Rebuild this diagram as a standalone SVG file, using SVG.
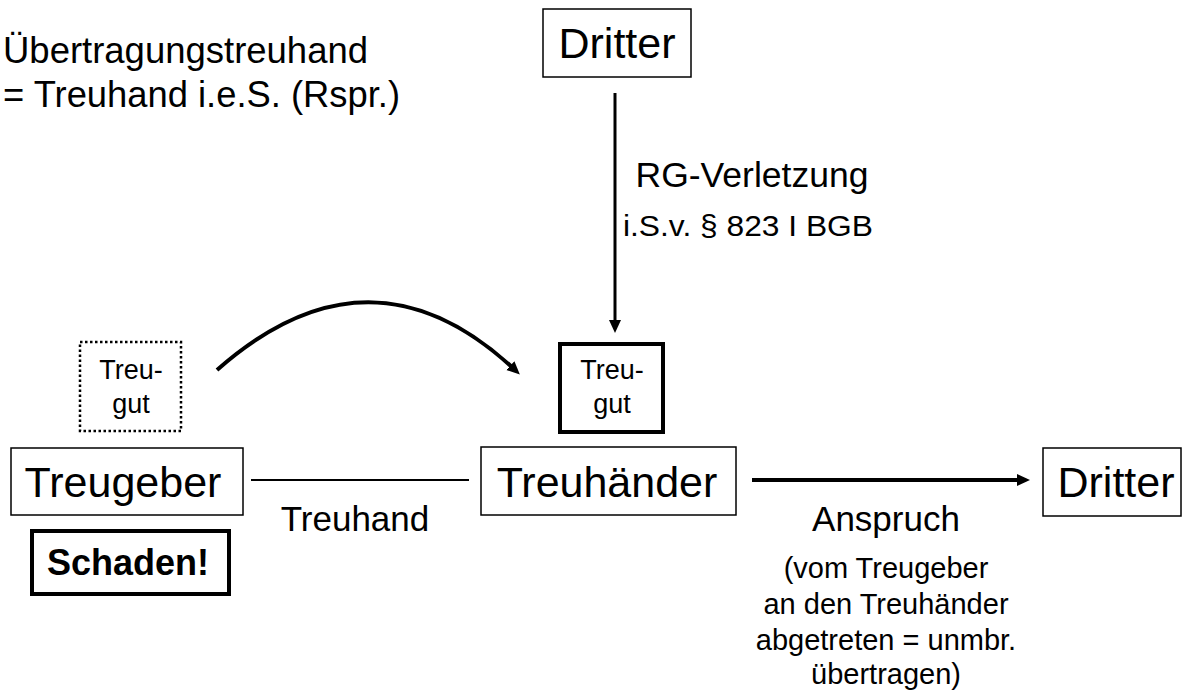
<svg xmlns="http://www.w3.org/2000/svg" width="1188" height="691" viewBox="0 0 1188 691">
<defs>
<style>
text{font-family:"Liberation Sans",Arial,sans-serif;fill:#000}
.big{font-size:43px;text-anchor:middle}
.mid{font-size:35px;text-anchor:middle}
.sm{font-size:27px;text-anchor:middle}
.box{fill:#fff;stroke:#000;stroke-width:1.5}
.thick{fill:#fff;stroke:#000;stroke-width:4}
.dot{fill:#fff;stroke:#000;stroke-width:2.5;stroke-dasharray:2.5 2.5}
.conn{fill:none;stroke:#000}
</style>
<marker id="ah" markerUnits="userSpaceOnUse" markerWidth="14" markerHeight="14" refX="5" refY="6" orient="auto" viewBox="0 0 14 12">
<path d="M0,0 L13,6 L0,12 z" fill="#000"/>
</marker>
</defs>
<g id="title">
<text x="3" y="63" font-size="36" textLength="365" lengthAdjust="spacingAndGlyphs">Übertragungstreuhand</text>
<text x="3" y="107" font-size="36" textLength="397" lengthAdjust="spacingAndGlyphs">= Treuhand i.e.S. (Rspr.)</text>
</g>
<g id="connectors">
<line class="conn" x1="615" y1="93" x2="615" y2="325" stroke-width="3" marker-end="url(#ah)"/>
<path class="conn" d="M217,370 Q370,235 514,369" stroke-width="4" marker-end="url(#ah)"/>
<line class="conn" x1="251" y1="480" x2="469" y2="480" stroke-width="2"/>
<line class="conn" x1="752" y1="480" x2="1022" y2="480" stroke-width="4" marker-end="url(#ah)"/>
<text class="mid" x="752" y="187" textLength="233" lengthAdjust="spacingAndGlyphs">RG-Verletzung</text>
<text x="748" y="236" font-size="30" text-anchor="middle" textLength="250" lengthAdjust="spacingAndGlyphs">i.S.v. § 823 I BGB</text>
<text class="mid" x="355" y="531">Treuhand</text>
<text class="mid" x="886" y="531">Anspruch</text>
<text x="886" y="578" font-size="29" text-anchor="middle">(vom Treugeber</text>
<text x="886" y="614" font-size="29" text-anchor="middle">an den Treuhänder</text>
<text x="886" y="650" font-size="29" text-anchor="middle">abgetreten = unmbr.</text>
<text x="886" y="684" font-size="29" text-anchor="middle">übertragen)</text>
</g>
<g id="dritter-top">
<rect class="box" x="543" y="9" width="148" height="68"/>
<text class="big" x="617" y="58">Dritter</text>
</g>
<g id="treugut-left">
<rect class="dot" x="80" y="342" width="101" height="89"/>
<text class="sm" x="131" y="379">Treu-</text>
<text class="sm" x="131" y="413">gut</text>
</g>
<g id="treugut-right">
<rect class="thick" x="560" y="344" width="103" height="88" stroke-width="3.5"/>
<text class="sm" x="612" y="379">Treu-</text>
<text class="sm" x="612" y="413">gut</text>
</g>
<g id="treugeber">
<rect class="box" x="11" y="448" width="232" height="67"/>
<text class="big" x="123" y="497">Treugeber</text>
</g>
<g id="schaden">
<rect class="thick" x="32" y="531" width="197" height="63"/>
<text x="128" y="575" font-size="36" font-weight="bold" text-anchor="middle">Schaden!</text>
</g>
<g id="treuhaender">
<rect class="box" x="481" y="447" width="255" height="68"/>
<text class="big" x="607" y="497">Treuhänder</text>
</g>
<g id="dritter-right">
<rect class="box" x="1043" y="448" width="138" height="68"/>
<text class="big" x="1116" y="497">Dritter</text>
</g>
</svg>
